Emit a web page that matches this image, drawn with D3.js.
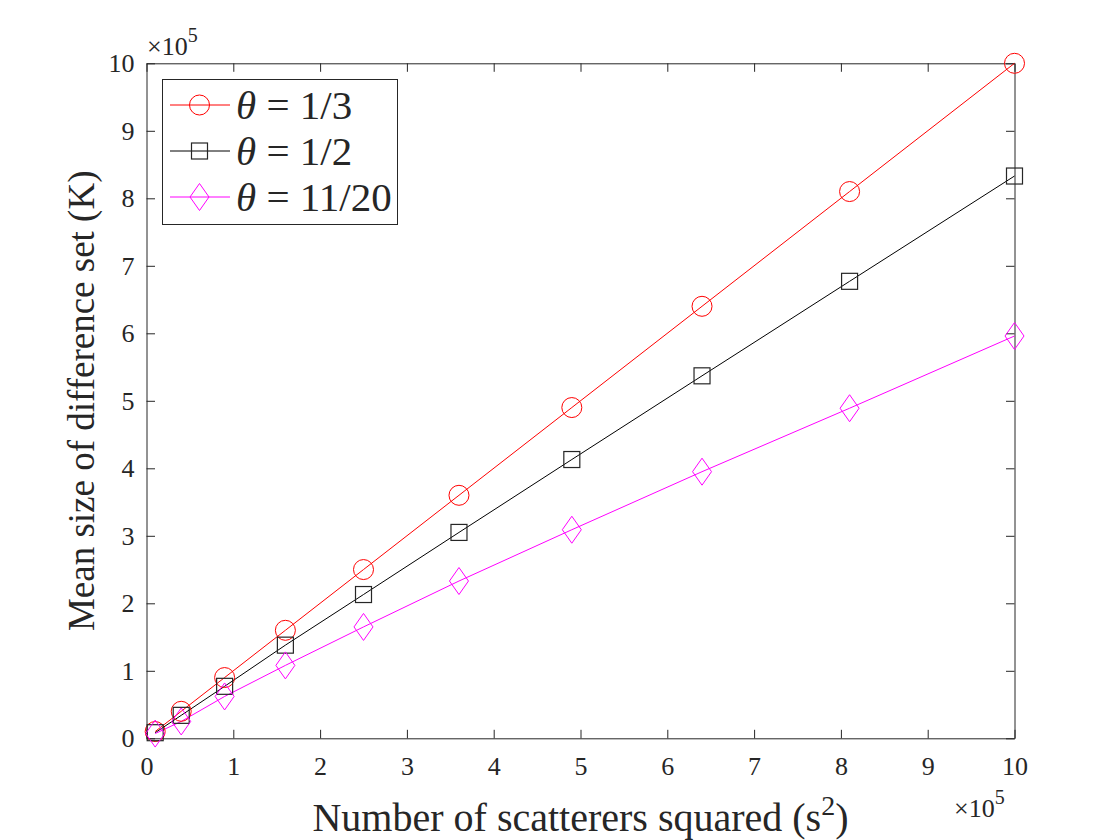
<!DOCTYPE html>
<html>
<head>
<meta charset="utf-8">
<script src="https://cdn.jsdelivr.net/npm/d3@7"></script>
<style>
  html, body { margin: 0; padding: 0; background: #fff; }
  svg { display: block; }
  text { font-family: "Liberation Serif", "Times New Roman", serif; fill: #262626; }
</style>
</head>
<body>
<svg id="chart" width="1120" height="840"></svg>
<script>
// Data (x and y in units of 10^5)
const xValues = [0.1, 0.4, 0.9, 1.6, 2.5, 3.6, 4.9, 6.4, 8.1, 10];
const seriesThird = [0.1, 0.4, 0.9, 1.6, 2.5, 3.6, 4.9, 6.4, 8.1, 10];
const seriesHalf = [0.083, 0.34, 0.77, 1.38, 2.13, 3.05, 4.13, 5.37, 6.77, 8.33];
const seriesEleven = [0.07, 0.25, 0.62, 1.08, 1.65, 2.33, 3.09, 3.95, 4.89, 5.96];
const seriesNames = ["1/3", "1/2", "11/20"];
const xTicks = [0, 1, 2, 3, 4, 5, 6, 7, 8, 9, 10];
const yTicks = [0, 1, 2, 3, 4, 5, 6, 7, 8, 9, 10];

const svg = d3.select("#chart");
const L = 146.5, R = 1014.5, T = 63.3, B = 738.3;
const x = d3.scaleLinear().domain([0, 10]).range([L, R]);
const y = d3.scaleLinear().domain([0, 10]).range([B, T]);

const styles = [
  { color: "#ff0000", marker: "circle" },
  { color: "#000000", marker: "square" },
  { color: "#ff00ff", marker: "diamond" }
];
const allSeries = [seriesThird, seriesHalf, seriesEleven];

function drawMarker(g, type, cx, cy, color) {
  if (type === "circle") {
    g.append("circle").attr("cx", cx).attr("cy", cy).attr("r", 10)
      .attr("fill", "none").attr("stroke", color).attr("stroke-width", 1);
  } else if (type === "square") {
    g.append("rect").attr("x", cx - 8).attr("y", cy - 8).attr("width", 16).attr("height", 16)
      .attr("fill", "none").attr("stroke", "#262626").attr("stroke-width", 1.2);
  } else {
    g.append("path").attr("d", `M${cx},${cy - 13.5}L${cx + 9.5},${cy}L${cx},${cy + 13.5}L${cx - 9.5},${cy}Z`)
      .attr("fill", "none").attr("stroke", color).attr("stroke-width", 1);
  }
}

// Axes box with inward ticks
const axisColor = "#262626";
const tickLen = 8.5;
const xAxisBottom = d3.axisBottom(x).tickValues(xTicks).tickSizeInner(-tickLen).tickSizeOuter(0).tickPadding(18).tickFormat(d3.format("d"));
const xAxisTop = d3.axisTop(x).tickValues(xTicks).tickSizeInner(-tickLen).tickSizeOuter(0).tickFormat("");
const yAxisLeft = d3.axisLeft(y).tickValues(yTicks).tickSizeInner(-tickLen).tickSizeOuter(0).tickPadding(12).tickFormat(d3.format("d"));
const yAxisRight = d3.axisRight(y).tickValues(yTicks).tickSizeInner(-tickLen).tickSizeOuter(0).tickFormat("");

function styleAxis(g) {
  g.attr("font-family", null).attr("font-size", null);
  g.select(".domain").attr("stroke", axisColor).attr("stroke-width", 1);
  g.selectAll(".tick line").attr("stroke", axisColor).attr("stroke-width", 1);
  g.selectAll(".tick text").style("font-family", '"Liberation Serif", serif').style("font-size", "26px").attr("fill", axisColor);
}

svg.append("g").attr("transform", `translate(0,${B})`).call(xAxisBottom).call(styleAxis);
svg.append("g").attr("transform", `translate(0,${T})`).call(xAxisTop).call(styleAxis);
svg.append("g").attr("transform", `translate(${L},0)`).call(yAxisLeft).call(styleAxis);
svg.append("g").attr("transform", `translate(${R},0)`).call(yAxisRight).call(styleAxis);

// Series
const line = d3.line().x((d, i) => x(xValues[i])).y(d => y(d));
const plot = svg.append("g");
allSeries.forEach((s, k) => {
  plot.append("path").datum(s).attr("d", line).attr("fill", "none")
    .attr("stroke", styles[k].color).attr("stroke-width", 1);
});
allSeries.forEach((s, k) => {
  const g = plot.append("g");
  s.forEach((v, i) => drawMarker(g, styles[k].marker, x(xValues[i]), y(v), styles[k].color));
});

// Exponent labels
function expLabel(px, py) {
  const t = svg.append("text").attr("x", px).attr("y", py).style("font-size", "26px");
  t.append("tspan").text("×10");
  t.append("tspan").attr("dy", -13).style("font-size", "20px").text("5");
}
expLabel(147, 55);
expLabel(954, 817);

// Axis labels
const xl = svg.append("text").attr("x", (L + R) / 2).attr("y", 831).attr("text-anchor", "middle")
  .style("font-size", "40px");
xl.append("tspan").text("Number of scatterers squared (s");
xl.append("tspan").attr("dy", -16).style("font-size", "28px").text("2");
xl.append("tspan").attr("dy", 16).text(")");

svg.append("text").attr("transform", `translate(94,${(T + B) / 2}) rotate(-90)`)
  .attr("text-anchor", "middle").style("font-size", "37px")
  .text("Mean size of difference set (K)");

// Legend
const leg = svg.append("g");
leg.append("rect").attr("x", 162.5).attr("y", 79.5).attr("width", 235).attr("height", 145)
  .attr("fill", "#fff").attr("stroke", axisColor).attr("stroke-width", 1);
const legY = [105, 151, 197];
seriesNames.forEach((name, k) => {
  const cy = legY[k];
  leg.append("line").attr("x1", 170).attr("x2", 230).attr("y1", cy).attr("y2", cy)
    .attr("stroke", styles[k].color).attr("stroke-width", 1);
  drawMarker(leg, styles[k].marker, 199.5, cy, styles[k].color);
  const t = leg.append("text").attr("x", 236).attr("y", cy + 14).style("font-size", "41px").attr("fill", "#000");
  t.append("tspan").style("font-style", "italic").text("θ");
  t.append("tspan").text(" = " + name);
});
</script>
</body>
</html>
